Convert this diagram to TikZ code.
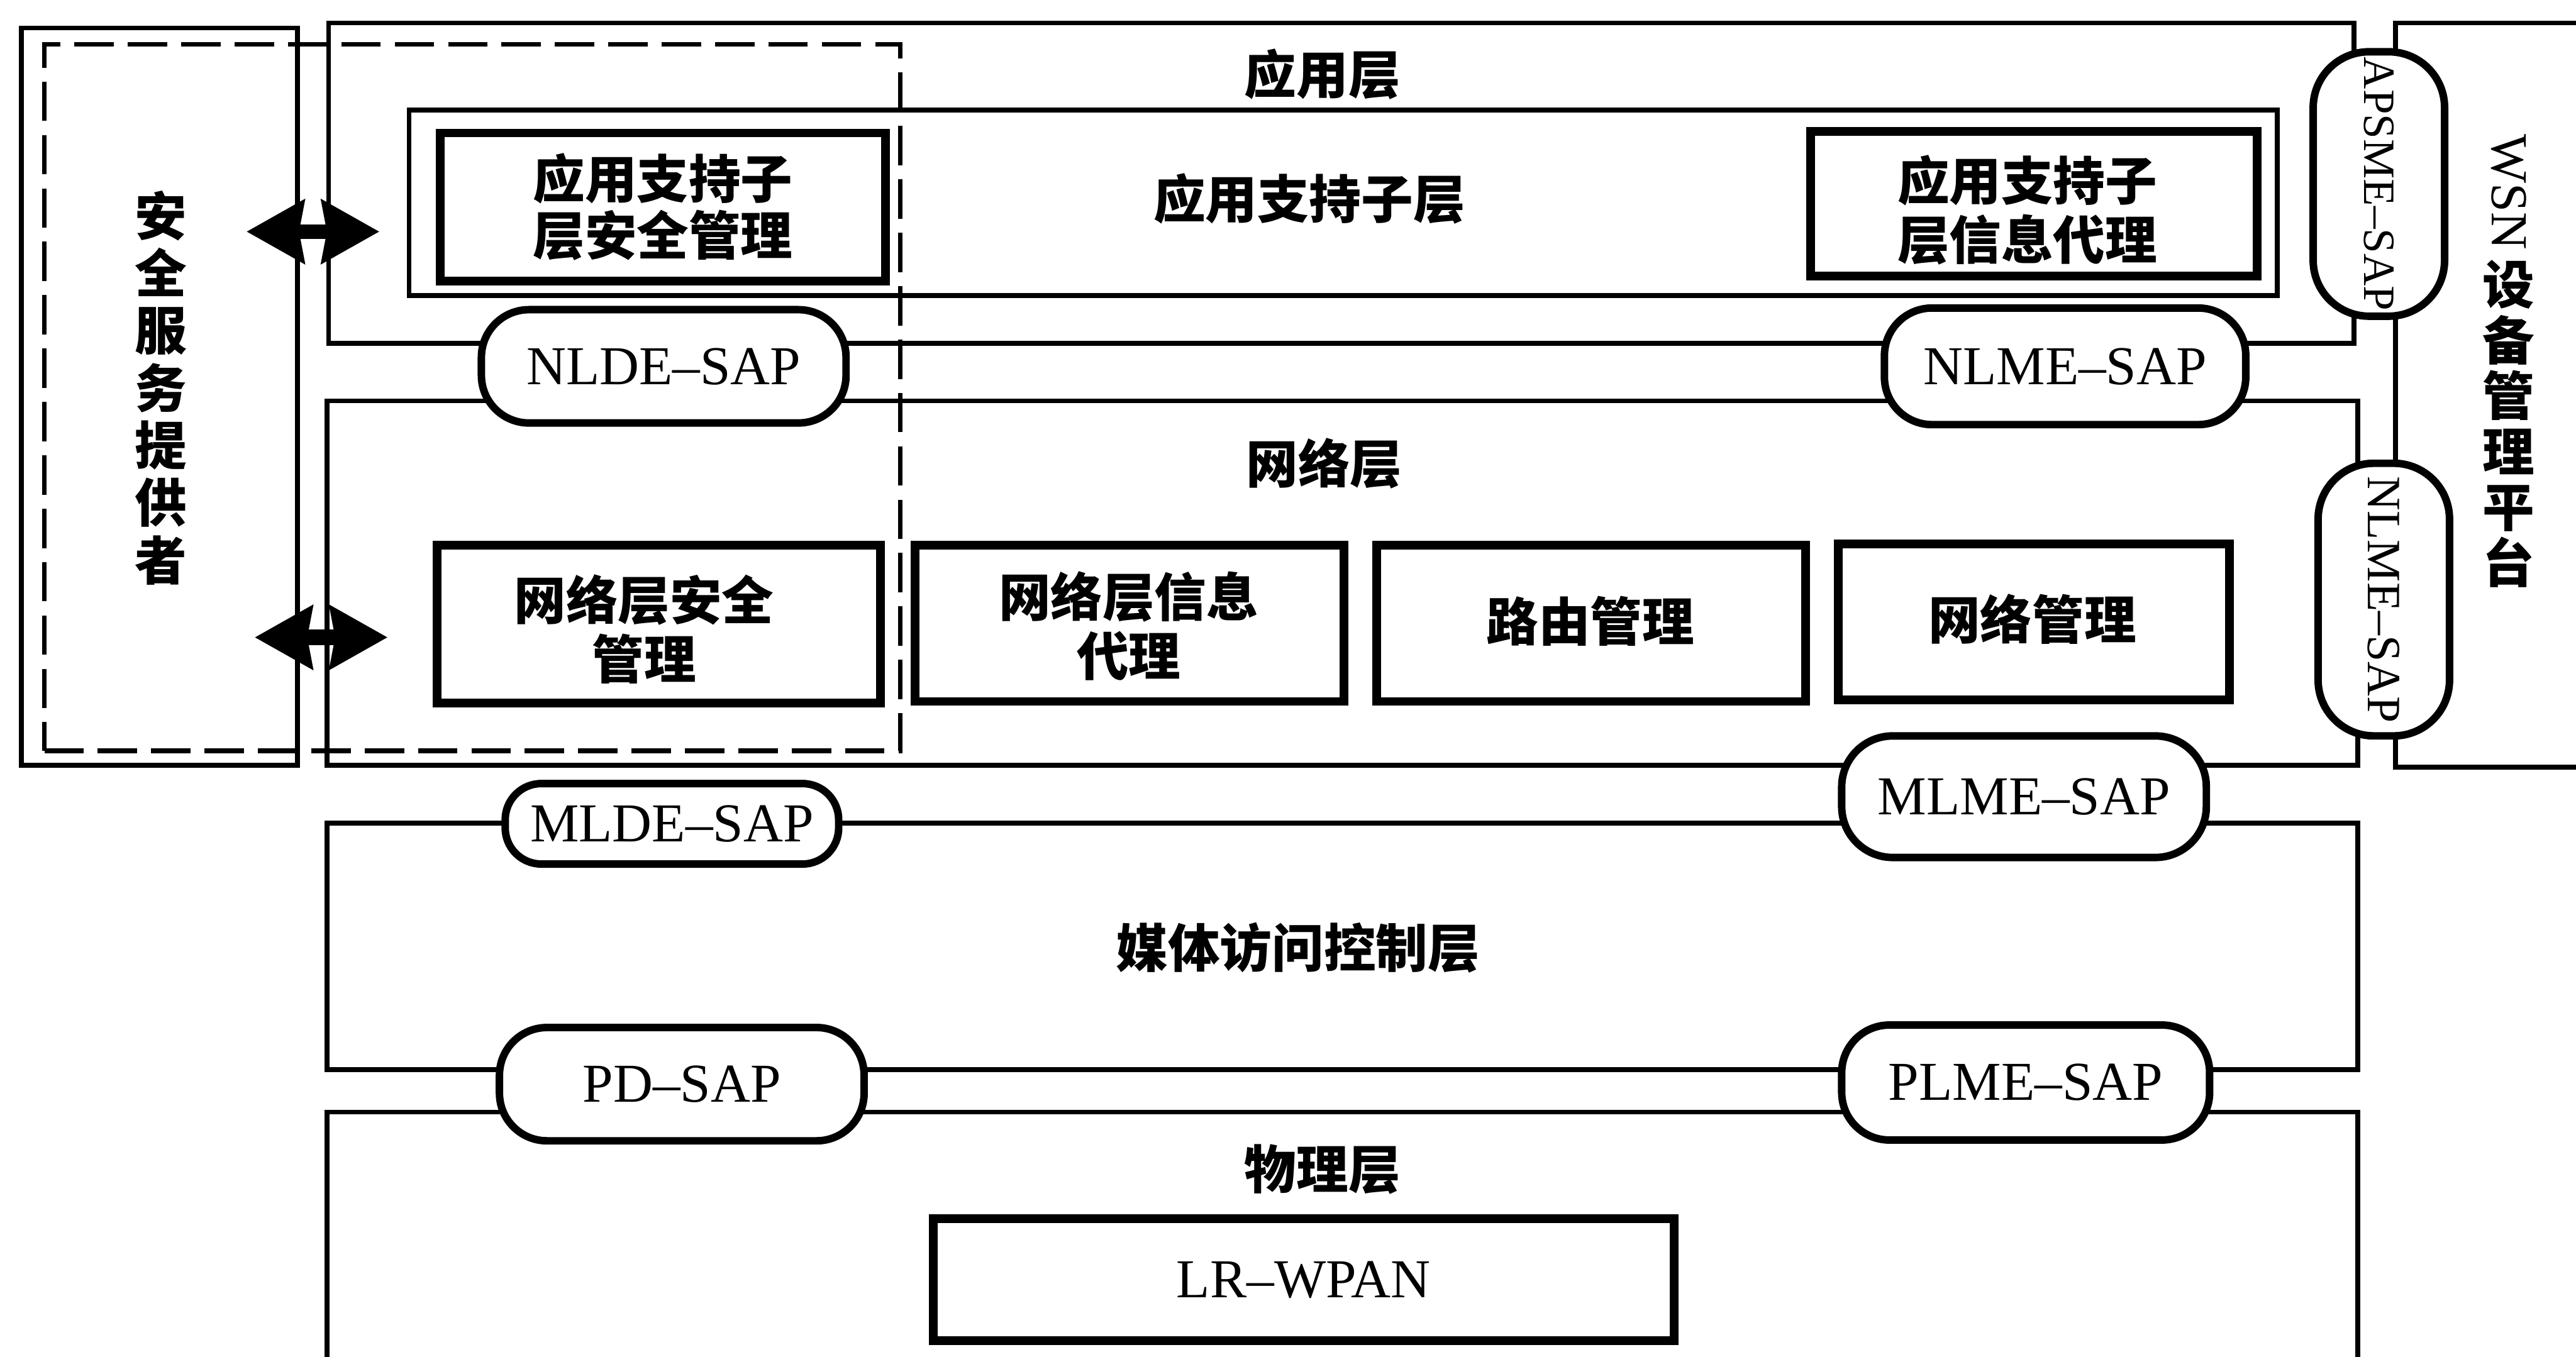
\documentclass[tikz,border=0pt]{standalone}
\usepackage{fontspec}
\setmainfont{Liberation Serif}
\newfontfamily\cjk{Noto Sans CJK SC}
\usetikzlibrary{fit,arrows.meta}
\begin{document}
\begin{tikzpicture}[x=0.02cm,y=-0.02cm,
  lyr/.style={draw, line width=1.7pt, inner sep=0pt},
  ibox/.style={draw, line width=3pt, inner sep=0pt, align=center,
    font=\cjk\bfseries\fontsize{18}{20.5}\selectfont},
  ttl/.style={inner sep=0pt, align=center, font=\cjk\bfseries\fontsize{18}{20}\selectfont},
  sap/.style={draw, fill=white, line width=2.6pt, inner sep=0pt,
    rounded corners=0.58cm, font=\fontsize{19}{22}\selectfont},
  vsap/.style={draw, fill=white, line width=2.6pt, inner sep=0pt, rotate=-90,
    rounded corners=0.68cm, minimum height=1.6cm},
  dbox/.style={draw, line width=1.6pt, dash pattern=on 0.48cm off 0.17cm, inner sep=0pt},
  dbl/.style={line width=5pt,
    {Stealth[length=0.7cm,width=0.76cm,inset=0.06cm]}-{Stealth[length=0.7cm,width=0.76cm,inset=0.06cm]}}
]
\useasboundingbox (0,0) rectangle (1568,826);
\clip (0,0) rectangle (1568,826);

% layers
\node[lyr, fit={(13,17) (181,466)}] (secprov) {};
\node[lyr, fit={(200,14) (1433,209)}] (app) {};
\node[lyr, fit={(249,67) (1386,180)}] (aps) {};
\node[lyr, fit={(199,244) (1435,466)}] (nwk) {};
\node[lyr, fit={(199,501) (1435,651)}] (mac) {};
\node[lyr, fit={(199,677) (1435,900)}] (phy) {};
\node[lyr, fit={(1458,14) (1640,467)}] (wsn) {};

% titles
\node[ttl] (tapp) at (805,45) {应用层};
\node[ttl] (taps) at (797,121) {应用支持子层};
\node[ttl] (tnwk) at (806,282) {网络层};
\node[ttl] (tmac) at (790,577) {媒体访问控制层};
\node[ttl] (tphy) at (805,712) {物理层};

% inner boxes
\node[ibox, fit={(268,81) (539,171)}] (apssec) {};
\node[ttl, font=\cjk\bfseries\fontsize{18}{19.5}\selectfont] (tapssec) at (apssec.center) {应用支持子\\层安全管理};
\node[ibox, fit={(1102,80) (1374,168)}] (apsinfo) {};
\node[ttl, font=\cjk\bfseries\fontsize{18}{20.5}\selectfont] (tapsinfo) at (1234,128) {应用支持子\\层信息代理};
\node[ibox, fit={(266,332) (536,428)}] (nwksec) {};
\node[ttl, font=\cjk\bfseries\fontsize{18}{20.5}\selectfont] (tnwksec) at (392,383) {网络层安全\\管理};
\node[ibox, fit={(557,332) (818,427)}] (nwkinfo) {};
\node[ttl, font=\cjk\bfseries\fontsize{18}{20.5}\selectfont] (tnwkinfo) at (687,381) {网络层信息\\代理};
\node[ibox, fit={(838,332) (1099,427)}] (route) {};
\node[ttl] (troute) at (968,378) {路由管理};
\node[ibox, fit={(1119,331) (1357,426)}] (nmgmt) {};
\node[ttl] (tnmgmt) at (1237,377) {网络管理};
\node[ibox, fit={(568,742) (1019,816)}] (lrwpan) {};
\node[inner sep=0pt, font=\fontsize{19}{22}\selectfont] (tlrwpan) at (lrwpan.center) {LR–WPAN};

% SAP ovals
\node[sap, minimum width=4.44cm, minimum height=1.38cm] (nlde) at (404,223) {NLDE–SAP};
\node[sap, minimum width=4.40cm, minimum height=1.42cm] (nlme) at (1257,223) {NLME–SAP};
\node[sap, minimum width=4.06cm, minimum height=0.98cm, rounded corners=0.44cm] (mlde) at (409,501.5) {MLDE–SAP};
\node[sap, minimum width=4.44cm, minimum height=1.48cm, rounded corners=0.62cm] (mlme) at (1232,485) {MLME–SAP};
\node[sap, minimum width=4.44cm, minimum height=1.38cm] (pd) at (415,660) {PD–SAP};
\node[sap, minimum width=4.48cm, minimum height=1.40cm] (plme) at (1233,659) {PLME–SAP};
\node[vsap, minimum width=3.22cm, font=\fontsize{15.5}{18}\selectfont] (apsme) at (1448,112) {APSME–SAP};
\node[vsap, minimum width=3.32cm, font=\fontsize{16.5}{18}\selectfont] (nlmev) at (1451,365) {NLME–SAP};

% side texts
\node[ttl, font=\cjk\bfseries\fontsize{18}{19.9}\selectfont] (tsec) at (98,236) {安\\全\\服\\务\\提\\供\\者};
\node[inner sep=0pt, rotate=-90, font=\fontsize{18}{20}\selectfont] (twsn) at (1527,117) {WSN};
\node[ttl, font=\cjk\bfseries\fontsize{18}{19.3}\selectfont] (twsn2) at (1527,258) {设\\备\\管\\理\\平\\台};

% dashed security domain
\node[dbox, fit={(27,27) (548,457)}] (secdom) {};

% double arrows
\coordinate (a1l) at (150,141);
\coordinate (a1r) at (231,141);
\coordinate (a2l) at (155,388);
\coordinate (a2r) at (236,388);
\draw[dbl] (a1l) -- (a1r);
\draw[dbl, line width=5.6pt] (a2l) -- (a2r);
\end{tikzpicture}
\end{document}
